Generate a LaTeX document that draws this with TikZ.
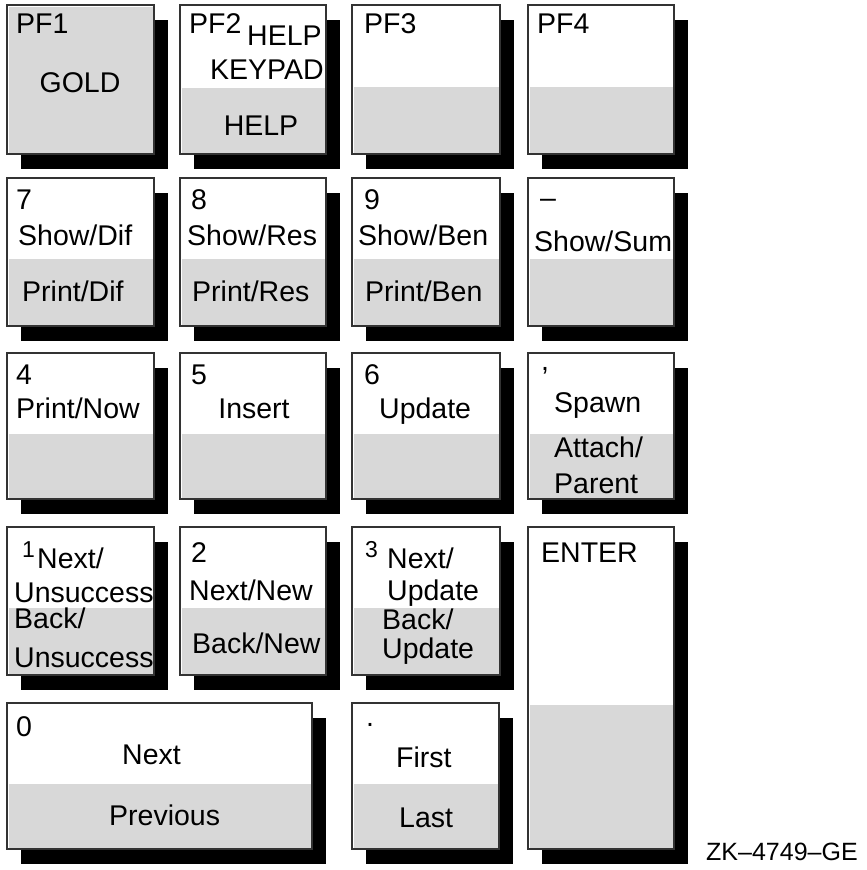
\documentclass[tikz,border=0pt]{standalone}
\usepackage{fontspec}
\setmainfont{Liberation Sans}
\definecolor{keygray}{HTML}{D8D8D8}
\definecolor{keyline}{HTML}{333333}
\newcommand\keycap[5]{%
  \fill[black] ({#1+14},{#2+15}) rectangle ({#3+14},{#4+15});
  \filldraw[fill=white,draw=keyline,line width=1.5pt] (#1,#2) rectangle (#3,#4);
  \fill[keygray] ({#1+1.5},#5) rectangle ({#3-1.5},{#4-1.5});
}
\begin{document}
\begin{tikzpicture}[x=1pt,y=-1pt,
  lbl/.style={font=\fontsize{28.5}{30}\selectfont,inner sep=0pt,anchor=base west},
  lblc/.style={lbl,anchor=base},
  small/.style={font=\fontsize{23}{26}\selectfont,inner sep=0pt,anchor=base west},
  tag/.style={font=\fontsize{25}{28}\selectfont,inner sep=0pt,anchor=base west}]
\useasboundingbox (0,0) rectangle (867,870);
% row 1
\keycap{7}{5}{154}{154}{6.5}
\keycap{180}{5}{326}{154}{88}
\keycap{352}{5}{500}{154}{87}
\keycap{528}{5}{674}{154}{87}
% row 2
\keycap{7}{178}{154}{326}{259}
\keycap{180}{178}{326}{326}{259}
\keycap{352}{178}{500}{326}{259}
\keycap{528}{178}{674}{326}{259}
% row 3
\keycap{7}{353}{154}{499}{434}
\keycap{180}{353}{326}{499}{434}
\keycap{352}{353}{500}{499}{434}
\keycap{528}{353}{674}{499}{434}
% row 4
\keycap{7}{527}{154}{675}{608}
\keycap{180}{527}{326}{675}{608}
\keycap{352}{527}{500}{675}{608}
\keycap{528}{527}{674}{849}{705}
% row 5
\keycap{7}{703}{312}{849}{784}
\keycap{352}{703}{499}{849}{784}
% labels row 1
\node[lbl] (pf1) at (16,33) {PF1};
\node[lblc] (gold) at (80,92) {GOLD};
\node[lbl] (pf2) at (189,33) {PF2};
\node[lbl] (help1) at (247,45) {HELP};
\node[lbl] (keypad) at (210,79) {KEYPAD};
\node[lblc] (help2) at (261,135) {HELP};
\node[lbl] (pf3) at (364,33) {PF3};
\node[lbl] (pf4) at (537,33) {PF4};
% row 2
\node[lbl] (k7) at (16,209) {7};
\node[lbl] (showdif) at (18,245) {Show/Dif};
\node[lbl] (printdif) at (22,301) {Print/Dif};
\node[lbl] (k8) at (191,209) {8};
\node[lbl] (showres) at (187,245) {Show/Res};
\node[lbl] (printres) at (192,301) {Print/Res};
\node[lbl] (k9) at (364,209) {9};
\node[lbl] (showben) at (358,245) {Show/Ben};
\node[lbl] (printben) at (365,301) {Print/Ben};
\node[lbl] (kminus) at (540,207) {\textendash};
\node[lbl] (showsum) at (534,251) {Show/Sum};
% row 3
\node[lbl] (k4) at (16,384) {4};
\node[lbl] (printnow) at (16,418) {Print/Now};
\node[lbl] (k5) at (191,384) {5};
\node[lblc] (insert) at (254,418) {Insert};
\node[lbl] (k6) at (364,384) {6};
\node[lbl] (update6) at (379,418) {Update};
\node[lbl] (kcomma) at (541,370) {,};
\node[lbl] (spawn) at (554,412) {Spawn};
\node[lbl] (attach) at (554,457) {Attach/};
\node[lbl] (parent) at (554,493) {Parent};
% row 4
\node[small] (k1) at (22,557) {1};
\node[lbl] (next1) at (37,568) {Next/};
\node[lbl] (unsucc1) at (14,602) {Unsuccess};
\node[lbl] (back1) at (14,628) {Back/};
\node[lbl] (unsucc2) at (14,667) {Unsuccess};
\node[lbl] (k2) at (191,562) {2};
\node[lbl] (nextnew) at (189,600) {Next/New};
\node[lbl] (backnew) at (192,653) {Back/New};
\node[small] (k3) at (365,557) {3};
\node[lbl] (next3) at (387,568) {Next/};
\node[lbl] (update3a) at (387,600) {Update};
\node[lbl] (back3) at (382,629) {Back/};
\node[lbl] (update3b) at (382,658) {Update};
\node[lbl] (enter) at (541,562) {ENTER};
% row 5
\node[lbl] (k0) at (16,736) {0};
\node[lbl] (next0) at (122,764) {Next};
\node[lbl] (previous) at (109,825) {Previous};
\node[lbl] (kdot) at (366,726) {.};
\node[lbl] (first) at (396,767) {First};
\node[lbl] (last) at (399,827) {Last};
\node[tag] (zk) at (706,860) {ZK\textendash4749\textendash GE};
\end{tikzpicture}
\end{document}
